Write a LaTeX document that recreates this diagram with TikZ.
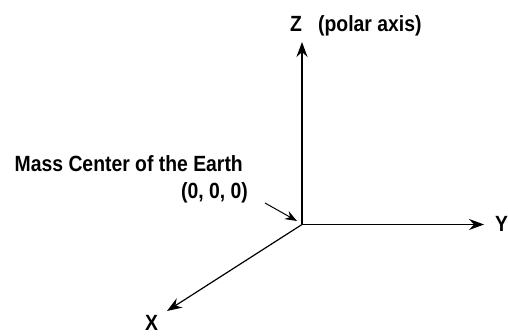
\documentclass[tikz,border=0pt]{standalone}
\usepackage{fontspec}
\setmainfont{Liberation Sans}[FakeStretch=0.88]
\usetikzlibrary{arrows.meta}
\begin{document}
\begin{tikzpicture}[x=1pt,y=-1pt,
  axis/.style={line width=1.2pt,-{Stealth[length=15pt,width=11pt,inset=5pt]}},
  pointer/.style={line width=1pt,-{Stealth[length=12pt,width=9pt,inset=4pt]}},
  lbl/.style={inner sep=0pt,font=\fontsize{22}{24}\selectfont\bfseries}]
\useasboundingbox (0,0) rectangle (508,336);
\coordinate (O) at (302,224.5);
\coordinate (ztip) at (302,42);
\coordinate (ytip) at (484,224.5);
\coordinate (xtip) at (167,311);
\coordinate (pstart) at (265,203);
\coordinate (pend) at (297,221);
\draw[axis] (O) -- (ztip);
\draw[axis] (O) -- (ytip);
\draw[axis] (O) -- (xtip);
\draw[pointer] (pstart) -- (pend);
\node[lbl,anchor=base west] (zl) at (290,32) {Z};
\node[lbl,anchor=base west] (zp) at (318,32) {(polar axis)};
\node[lbl,anchor=base west] (yl) at (495,232) {Y};
\node[lbl,anchor=base west] (xl) at (145,330) {X};
\node[lbl,anchor=base east] (mass) at (243,172) {Mass Center of the Earth};
\node[lbl,anchor=base east] (orig) at (248,199) {(0, 0, 0)};
\end{tikzpicture}
\end{document}
